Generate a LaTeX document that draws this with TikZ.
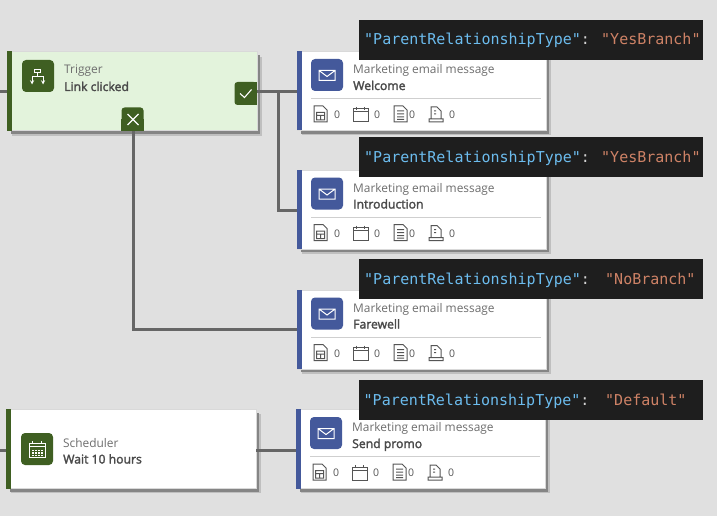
\documentclass[tikz,border=0pt]{standalone}
\usepackage{fontspec}
\setmainfont{Open Sans}
\newfontfamily\namefont[FakeBold=2.2]{Open Sans}
\newfontfamily\codefont{DejaVu Sans Mono}
\usetikzlibrary{shadows}
\definecolor{pagegray}{HTML}{E0E0E0}
\definecolor{linegray}{HTML}{666666}
\definecolor{flowgreen}{HTML}{3F5F22}
\definecolor{mailblue}{HTML}{44599B}
\definecolor{palegreen}{HTML}{E3F3DC}
\definecolor{kindgray}{HTML}{6E6E6E}
\definecolor{namegray}{HTML}{4A4A4A}
\definecolor{icongray}{HTML}{555555}
\definecolor{rulegray}{HTML}{CFCFCF}
\definecolor{codeblack}{HTML}{1E1E1E}
\definecolor{codeblue}{HTML}{6CBCEE}
\definecolor{codecoral}{HTML}{CE8266}
\definecolor{codecolon}{HTML}{D4D4D4}
\tikzset{
  card/.style={anchor=north west,minimum width=249.5pt,minimum height=79pt,inner sep=0pt,
    fill=white,draw=black!15,line width=.5pt,
    general shadow={shadow xshift=5pt,shadow yshift=-5pt,fill=black!25},
    general shadow={shadow xshift=3.5pt,shadow yshift=-3.5pt,fill=black!48}},
  iconbox/.style={minimum size=32pt,inner sep=0pt,rounded corners=4pt},
  kindtext/.style={anchor=base west,inner sep=0pt,font=\fontsize{11.9pt}{13pt}\selectfont,text=kindgray},
  nametext/.style={anchor=base west,inner sep=0pt,font=\namefont\fontsize{12.2pt}{14pt}\selectfont,text=namegray},
  counttext/.style={inner sep=0pt,font=\fontsize{10.5pt}{12pt}\selectfont,text=icongray},
  link/.style={line width=3pt,draw=linegray},
  tabbox/.style={minimum width=22pt,minimum height=23pt,inner sep=0pt,fill=flowgreen,rounded corners=3pt},
  jsonbox/.style={anchor=north west,minimum width=344pt,minimum height=40pt,inner sep=0pt,fill=codeblack},
  codetext/.style={anchor=base west,inner sep=0pt,font=\codefont\fontsize{15pt}{17pt}\selectfont},
  smallicon/.style={draw=icongray,line width=1pt}
}
\newcommand{\mailcard}[4]{
  \node[card,minimum width=248.5pt] (#1) at (#2,#3) {};
  \fill[mailblue] (#1.north west) rectangle ([xshift=5pt]#1.south west);
  \begin{scope}[shift={(#2,#3)}]
    \node[iconbox,fill=mailblue] (#1-icon) at (30,24) {};
    \draw[white,line width=1pt] (22,19.5) rectangle (38,29.5) (22,19.5) -- (30,25.5) -- (38,19.5);
    \node[kindtext] (#1-kind) at (56,22.5) {Marketing email message};
    \node[nametext] (#1-name) at (56,39) {#4};
    \draw[rulegray,line width=.8pt] (14,47.5) -- (244,47.5);
    % document
    \draw[smallicon] (17,71) -- (17,55) -- (26,55) -- (30,59) -- (30,71) -- cycle
      (19.5,61.5) rectangle (27.5,69) (19.5,64.5) -- (27.5,64.5) (23.5,64.5) -- (23.5,69);
    \node[counttext] (#1-a) at (40,64) {0};
    % calendar
    \draw[smallicon] (56,58) rectangle (71,71) (56,61) -- (71,61) (59.5,56) -- (59.5,59) (67.5,56) -- (67.5,59);
    \node[counttext] (#1-b) at (80,64) {0};
    % lines
    \draw[smallicon] (97,71) -- (97,55) -- (106,55) -- (110,59) -- (110,71) -- cycle
      (100,60) -- (107,60) (100,63) -- (107,63) (100,66) -- (107,66) (100,68.5) -- (107,68.5);
    \node[counttext] (#1-c) at (115,64) {0};
    % form
    \draw[smallicon] (132,71) -- (146,71) -- (146,68) -- (144,68) -- (144,60) -- (140,56) -- (134,56) -- (134,68) -- (132,68) -- cycle
      (134,68) -- (144,68) (137,60) -- (139,60) (137,63) -- (139,63);
    \node[counttext] (#1-d) at (155,64) {0};
  \end{scope}
}
\newcommand{\jsonline}[5]{
  \node[jsonbox] (#1) at (#2,#3) {};
  \node[codetext] (#1-key) at (#2+5,#3+25) {\textcolor{codeblue}{"ParentRelationshipType"}\textcolor{codecolon}{:}};
  \node[codetext,text=codecoral] (#1-val) at (#5,#3+25) {"#4"};
}
\begin{document}
\begin{tikzpicture}[x=1pt,y=-1pt]
  \fill[pagegray] (0,0) rectangle (717,516);
  \useasboundingbox (0,0) rectangle (717,516);

  \node[card,fill=palegreen] (trigger) at (7,51.5) {};
  \fill[flowgreen] (trigger.north west) rectangle ([xshift=5pt]trigger.south west);
  \node[iconbox,fill=flowgreen] (trigger-icon) at (38,76) {};
  \draw[white,line width=.9pt] (34.5,69) rectangle (40.5,72.5);
  \draw[white,line width=.9pt,->,>=stealth] (37.5,72.5) -- (37.5,76.5) -- (32,76.5) -- (32,84.5);
  \draw[white,line width=.9pt,->,>=stealth] (37.5,76.5) -- (43,76.5) -- (43,84.5);
  \node[kindtext] (trigger-kind) at (64,74) {Trigger};
  \node[nametext] (trigger-name) at (64,91) {Link clicked};

  \node[tabbox] (yestab) at (245.5,93.5) {};
  \fill[flowgreen] (yestab.north) rectangle (yestab.south east);
  \draw[white,line width=1.1pt] (240,93.5) -- (244.5,97.5) -- (251.5,89.5);
  \node[tabbox] (notab) at (132.5,119) {};
  \fill[flowgreen] (notab.west) rectangle (notab.south east);
  \draw[white,line width=1.1pt] (127.5,114) -- (138.5,125) (127.5,125) -- (138.5,114);

  \node[card] (sched) at (6,409) {};
  \fill[flowgreen] (sched.north west) rectangle ([xshift=5pt]sched.south west);
  \node[iconbox,fill=flowgreen] (sched-icon) at (37,449) {};
  \draw[white,line width=.9pt] (29,443) rectangle (45,457) (29,446.5) -- (45,446.5) (32.5,441) -- (32.5,444) (41.5,441) -- (41.5,444);
  \foreach \gx in {32,35,38,41} \foreach \gy in {449.5,452,454.5}
    \fill[white] (\gx,\gy) rectangle ++(1.7,1.5);
  \node[kindtext] (sched-kind) at (63,447) {Scheduler};
  \node[nametext] (sched-name) at (63,463.5) {Wait 10 hours};

  \mailcard{welcome}{297}{51}{Welcome}
  \mailcard{intro}{297}{169.5}{Introduction}
  \mailcard{farewell}{297}{289.5}{Farewell}
  \mailcard{promo}{296}{409}{Send promo}

  \coordinate (trigin) at (0,92);
  \coordinate (schedin) at (0,450);
  \coordinate (branch) at (278,92);
  \draw[link] (trigin) -- (trigin -| trigger.west);
  \draw[link] (schedin) -- (schedin -| sched.west);
  \draw[link] (yestab.east |- branch) -- (branch -| welcome.west);
  \draw[link] (branch) |- ([yshift=-1pt]intro.west);
  \draw[link] ([xshift=1pt]notab.south) |- (farewell.west);
  \draw[link] ([yshift=-1.5pt]sched.east) -- ([yshift=-1.5pt]promo.west);

  \jsonline{yesone}{359}{20}{YesBranch}{601}
  \jsonline{yestwo}{359}{137}{YesBranch}{601}
  \jsonline{nobranch}{359}{259}{NoBranch}{605}
  \jsonline{default}{358.5}{380}{Default}{605}
\end{tikzpicture}
\end{document}
